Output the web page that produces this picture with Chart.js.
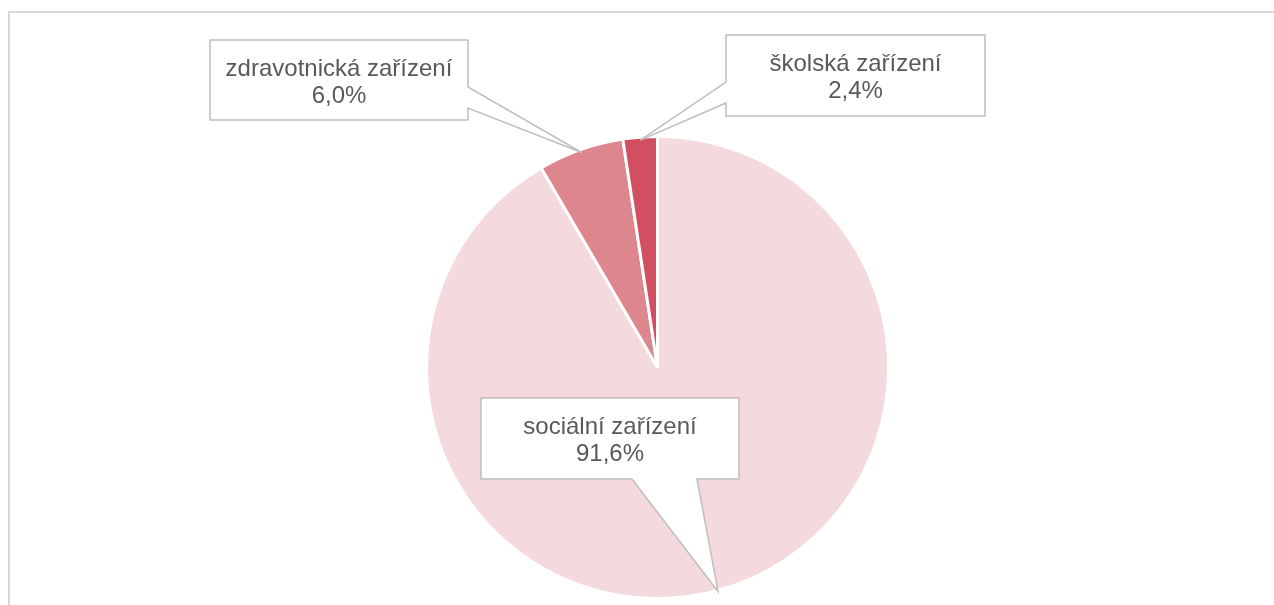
<!DOCTYPE html>
<html>
<head>
<meta charset="utf-8">
<script src="https://cdn.jsdelivr.net/npm/chart.js@4/dist/chart.umd.min.js"></script>
<style>
  html, body { margin: 0; padding: 0; background: #fff; }
  #canvas { display: block; }
</style>
</head>
<body>
<canvas id="canvas" width="1274" height="605"></canvas>
<script>
// Data
const categories = ['sociální zařízení', 'zdravotnická zařízení', 'školská zařízení'];
const shares = [91.6, 6.0, 2.4];
const sliceColors = ['#f4d9dd', '#de868e', '#d14f60'];

// Callout boxes: [left, top, right, bottom], side where the pointer leaves, pointer base a/b
const callouts = [
  { box: [481, 398, 739, 479], side: 'bottom', a: 632, b: 697, inset: 1 },
  { box: [210, 40, 468, 120], side: 'right', a: 87, b: 108, inset: -3 },
  { box: [726, 35, 985, 116], side: 'left', a: 82, b: 103, inset: -3 }
];

const fmt = v => v.toFixed(1).replace('.', ',') + '%';

const frame = {
  id: 'frame',
  beforeDraw(chart) {
    const ctx = chart.ctx;
    ctx.save();
    ctx.strokeStyle = '#d9d9d9';
    ctx.lineWidth = 2;
    ctx.strokeRect(9, 12, 1400, 800);
    ctx.restore();
  }
};

const calloutPlugin = {
  id: 'callouts',
  afterDatasetsDraw(chart) {
    const ctx = chart.ctx;
    const arcs = chart.getDatasetMeta(0).data;
    ctx.save();
    callouts.forEach((c, i) => {
      const p = arcs[i].getProps(['x', 'y', 'startAngle', 'endAngle', 'outerRadius'], true);
      const mid = (p.startAngle + p.endAngle) / 2;
      const r = p.outerRadius + c.inset;
      const tx = p.x + Math.cos(mid) * r;
      const ty = p.y + Math.sin(mid) * r;
      const [l, t, rr, b] = c.box;

      ctx.beginPath();
      ctx.moveTo(l, t);
      ctx.lineTo(rr, t);
      if (c.side === 'right') {
        ctx.lineTo(rr, c.a); ctx.lineTo(tx, ty); ctx.lineTo(rr, c.b);
      }
      ctx.lineTo(rr, b);
      if (c.side === 'bottom') {
        ctx.lineTo(c.b, b); ctx.lineTo(tx, ty); ctx.lineTo(c.a, b);
      }
      ctx.lineTo(l, b);
      if (c.side === 'left') {
        ctx.lineTo(l, c.b); ctx.lineTo(tx, ty); ctx.lineTo(l, c.a);
      }
      ctx.closePath();
      ctx.fillStyle = '#ffffff';
      ctx.fill();
      ctx.strokeStyle = '#bfbfbf';
      ctx.lineWidth = 1.5;
      ctx.stroke();

      ctx.fillStyle = '#595959';
      ctx.font = '24px "Liberation Sans", Arial, sans-serif';
      ctx.textAlign = 'center';
      ctx.textBaseline = 'alphabetic';
      const cx = (l + rr) / 2;
      ctx.fillText(categories[i], cx, t + 36);
      ctx.fillText(fmt(shares[i]), cx, t + 63);
    });
    ctx.restore();
  }
};

new Chart(document.getElementById('canvas').getContext('2d'), {
  type: 'pie',
  data: {
    labels: categories,
    datasets: [{
      data: shares,
      backgroundColor: sliceColors,
      borderColor: '#ffffff',
      borderWidth: 3
    }]
  },
  options: {
    responsive: false,
    animation: false,
    layout: { padding: { left: 425, top: 135, right: 384, bottom: 5 } },
    plugins: {
      legend: { display: false },
      tooltip: { enabled: false }
    }
  },
  plugins: [frame, calloutPlugin]
});
</script>
</body>
</html>
